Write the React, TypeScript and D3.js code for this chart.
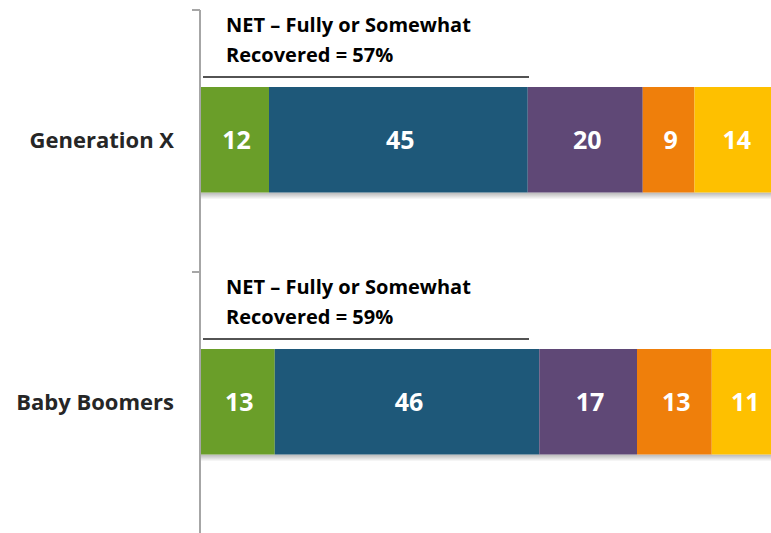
import React from "react";
import * as d3 from "d3";

const categories = ["Generation X", "Baby Boomers"];
const segmentKeys = ["s1", "s2", "s3", "s4", "s5"];
const genXValues = [12, 45, 20, 9, 14];
const boomerValues = [13, 46, 17, 13, 11];
const netValues = [57, 59];
const netLine1 = "NET – Fully or Somewhat";
const colors = ["#6A9E29", "#1E5879", "#5F4876", "#EF7F0B", "#FEC000"];

const W = 771;
const H = 533;

export default function App() {
  const seriesValues = [genXValues, boomerValues];
  const x = d3.scaleLinear().domain([0, 100]).range([200, 775]);
  const y = d3.scaleBand<string>().domain(categories).range([10, 534]);
  const barOffset = 77;
  const barH = 105.5;
  const font = "'Open Sans', sans-serif";

  return (
    <svg width={W} height={H} style={{ position: "absolute", left: 0, top: 0, display: "block" }}>
      <defs>
        <linearGradient id="shadow" x1="0" y1="0" x2="0" y2="1">
          <stop offset="0" stopColor="#000" stopOpacity="0.28" />
          <stop offset="1" stopColor="#000" stopOpacity="0" />
        </linearGradient>
      </defs>
      <rect x={0} y={0} width={W} height={H} fill="#fff" />
      {categories.map((cat, ci) => {
        const vals = seriesValues[ci];
        const top = (y(cat) as number) + barOffset;
        const stack = d3.cumsum([0, ...vals]);
        return (
          <g key={cat}>
            <rect x={x(0)} y={top + barH} width={x(100) - x(0)} height={7} fill="url(#shadow)" />
            {segmentKeys.map((k, i) => (
              <rect
                key={k}
                x={x(stack[i])}
                y={top}
                width={x(stack[i + 1]) - x(stack[i])}
                height={barH}
                fill={colors[i]}
              />
            ))}
            {segmentKeys.map((k, i) => (
              <text
                key={k + "t"}
                x={(x(stack[i]) + x(stack[i + 1])) / 2 + 2}
                y={top + barH / 2 + 9.5}
                textAnchor="middle"
                fill="#fff"
                fontFamily={font}
                fontWeight={700}
                fontSize={25}
              >
                {vals[i]}
              </text>
            ))}
            <text
              x={174}
              y={top + barH / 2 + 8.5}
              textAnchor="end"
              fill="#262626"
              fontFamily={font}
              fontWeight={700}
              fontSize={22}
            >
              {cat}
            </text>
            <text x={226} y={top - 55} fill="#000" fontFamily={font} fontWeight={700} fontSize={20}>
              {netLine1}
            </text>
            <text x={226} y={top - 25.5} fill="#000" fontFamily={font} fontWeight={700} fontSize={20}>
              {`Recovered = ${netValues[ci]}%`}
            </text>
            <line x1={203} x2={529} y1={top - 10} y2={top - 10} stroke="#1a1a1a" strokeWidth={1.5} />
          </g>
        );
      })}
      <line x1={200} x2={200} y1={10} y2={H} stroke="#a6a6a6" strokeWidth={2} />
      {[...categories.map((c) => y(c) as number)].map((t, i) => (
        <line key={i} x1={192} x2={200} y1={t} y2={t} stroke="#a6a6a6" strokeWidth={2} />
      ))}
    </svg>
  );
}
